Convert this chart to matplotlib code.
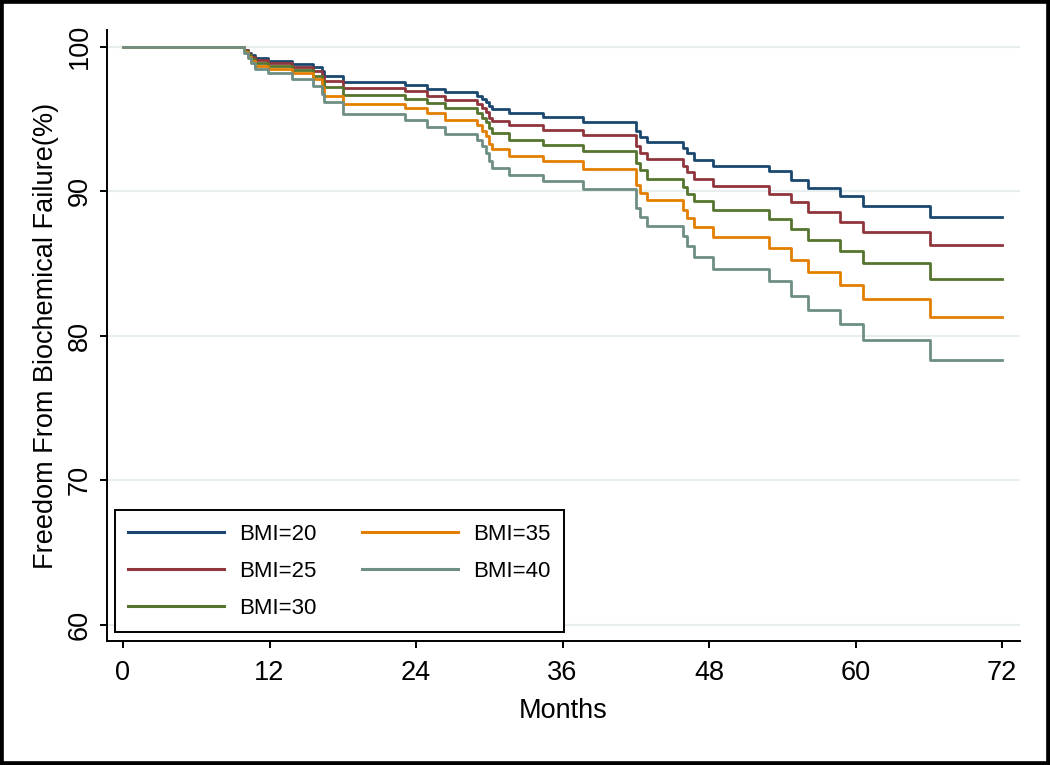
import matplotlib
matplotlib.use("Agg")
import matplotlib.pyplot as plt
from matplotlib.patches import Rectangle

plt.rcParams['font.family'] = ['Liberation Sans', 'DejaVu Sans']

# step times (months) shared by all predicted curves
months = [0, 9.9, 10.2, 10.5, 10.8, 11.9, 13.8, 15.6, 16.3, 16.5, 18.0, 23.1,
          24.9, 26.4, 29.0, 29.4, 29.7, 30.0, 30.2, 31.6, 34.4, 37.7, 42.0,
          42.3, 42.9, 45.9, 46.2, 46.8, 48.3, 52.9, 54.7, 56.1, 58.7, 60.6,
          66.1, 72.0]

bmi20 = [100, 99.8, 99.6, 99.4, 99.22, 98.99, 98.8, 98.6, 98.3, 98.0, 97.55,
         97.32, 97.09, 96.86, 96.62, 96.40, 96.18, 95.89, 95.69, 95.41, 95.11,
         94.76, 94.14, 93.75, 93.38, 92.99, 92.64, 92.18, 91.76, 91.37, 90.8,
         90.22, 89.64, 89.0, 88.21, 88.21]
bmi25 = [100, 99.75, 99.5, 99.28, 99.05, 98.87, 98.6, 98.3, 97.98, 97.65,
         97.14, 96.91, 96.61, 96.33, 96.05, 95.76, 95.47, 95.1, 94.83, 94.56,
         94.26, 93.91, 93.1, 92.64, 92.22, 91.72, 91.3, 90.84, 90.33, 89.83,
         89.23, 88.53, 87.84, 87.15, 86.25, 86.25]
bmi30 = [100, 99.7, 99.45, 99.15, 98.87, 98.69, 98.36, 97.99, 97.6, 97.19,
         96.63, 96.38, 96.1, 95.76, 95.43, 95.1, 94.77, 94.35, 94.03, 93.56,
         93.22, 92.8, 91.95, 91.44, 90.87, 90.29, 89.83, 89.34, 88.72, 88.1,
         87.38, 86.64, 85.83, 85.03, 83.94, 83.94]
bmi35 = [100, 99.65, 99.3, 99.0, 98.69, 98.46, 98.18, 97.76, 97.2, 96.61,
         96.06, 95.76, 95.41, 94.95, 94.56, 94.18, 93.79, 93.29, 92.92, 92.46,
         92.07, 91.53, 90.45, 89.87, 89.36, 88.72, 88.14, 87.52, 86.83, 86.07,
         85.26, 84.38, 83.53, 82.54, 81.29, 81.29]
bmi40 = [100, 99.6, 99.2, 98.85, 98.46, 98.18, 97.76, 97.25, 96.75, 96.21,
         95.36, 94.9, 94.42, 93.98, 93.56, 93.1, 92.64, 92.07, 91.6, 91.14,
         90.68, 90.15, 88.84, 88.21, 87.56, 86.87, 86.18, 85.45, 84.62, 83.76,
         82.77, 81.8, 80.83, 79.72, 78.34, 78.34]

labels = ["BMI=20", "BMI=25", "BMI=30", "BMI=35", "BMI=40"]
colors = ["#1a476f", "#90353b", "#55752f", "#e37e00", "#6e8e84"]
series = [bmi20, bmi25, bmi30, bmi35, bmi40]

xticks = [0, 12, 24, 36, 48, 60, 72]
yticks = [60, 70, 80, 90, 100]

fig = plt.figure(figsize=(10.5, 7.65), dpi=100)
ax = fig.add_axes([107 / 1050, 1 - 641 / 765, (1020 - 107) / 1050, (641 - 30) / 765])

for vals, lab, col in zip(series, labels, colors):
    ax.step(months, vals, where='post', color=col, lw=2.0, label=lab)

ax.set_xlim(-1.31, 73.46)
ax.set_ylim(58.87, 101.16)
ax.set_xticks(xticks)
ax.set_yticks(yticks)
ax.yaxis.grid(True, color='#e6eef0', lw=1.6)
ax.set_axisbelow(True)

for side in ['top', 'right']:
    ax.spines[side].set_visible(False)
for side in ['left', 'bottom']:
    ax.spines[side].set_linewidth(1.4)

ax.tick_params(axis='both', direction='out', length=5, width=1.4, labelsize=19.5)
ax.tick_params(axis='x', pad=9)
ax.tick_params(axis='y', pad=5)
plt.setp(ax.get_yticklabels(), rotation=90, va='center')

ax.set_xlabel("Months", fontsize=19.5, labelpad=8)
ax.set_ylabel("Freedom From Biochemical Failure(%)", fontsize=19.5, labelpad=6)

leg = ax.legend(ncol=2, loc='lower left', bbox_to_anchor=(115 / 1050, 1 - 632 / 765),
                bbox_transform=fig.transFigure, borderaxespad=0, fontsize=16,
                fancybox=False, framealpha=1, edgecolor='black',
                handlelength=4.3, handletextpad=0.7, columnspacing=2.05,
                labelspacing=0.72, borderpad=0.6)
leg.get_frame().set_linewidth(1.4)
for line in leg.get_lines():
    line.set_linewidth(2.2)

fig.patches.append(Rectangle((0, 0), 1, 1, transform=fig.transFigure, fill=False,
                             edgecolor='black', lw=5.5))

fig.savefig("out.png", dpi=100)
